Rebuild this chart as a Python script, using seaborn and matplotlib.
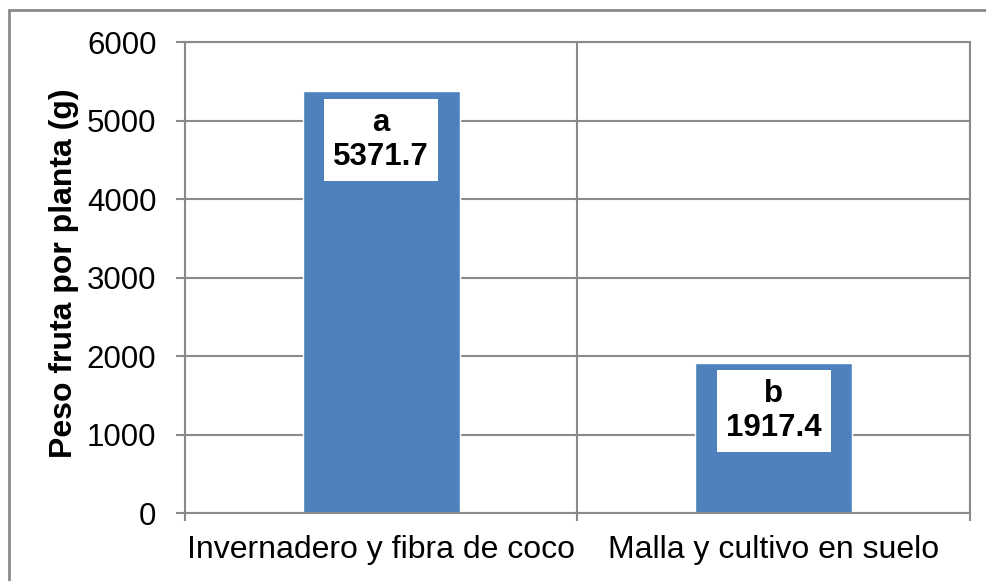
import matplotlib
matplotlib.use("Agg")
import matplotlib.pyplot as plt
from matplotlib.lines import Line2D
from matplotlib.ticker import FixedLocator
import seaborn as sns
import pandas as pd

# datos
tratamientos = ["Invernadero y fibra de coco", "Malla y cultivo en suelo"]
peso_fruta = [5371.7, 1917.4]
letras = ["a", "b"]

df = pd.DataFrame({"tratamiento": tratamientos, "peso": peso_fruta})

sns.set_style("white")
plt.rcParams["font.family"] = ["Liberation Sans", "DejaVu Sans"]
plt.rcParams["text.color"] = "black"
plt.rcParams["xtick.labelcolor"] = "black"
plt.rcParams["ytick.labelcolor"] = "black"
plt.rcParams["axes.labelcolor"] = "black"

gris = "#8a8a8a"

fig, ax = plt.subplots(figsize=(9.87, 5.81), dpi=100)
fig.subplots_adjust(left=0.1874, right=0.9828, top=0.9277, bottom=0.117)

sns.barplot(data=df, x="tratamiento", y="peso", color="#4F81BD",
            saturation=1, width=0.4, ax=ax)

ax.set_xlim(-0.5, 1.5)
ax.set_ylim(0, 6000)
ax.set_yticks(range(0, 6001, 1000))
ax.xaxis.set_minor_locator(FixedLocator([-0.5, 0.5, 1.5]))

# lineas de guia
ax.set_axisbelow(True)
ax.grid(axis="y", which="major", color=gris, linewidth=1.5)
ax.grid(axis="x", which="minor", color=gris, linewidth=1.5)
for s in ax.spines.values():
    s.set_color(gris)
    s.set_linewidth(1.5)

ax.tick_params(axis="y", which="major", direction="out", length=6.5, width=1.5,
               color=gris, labelsize=22.5, pad=14, left=True, labelcolor="black")
ax.tick_params(axis="x", which="major", length=0, labelsize=23, pad=16,
               labelcolor="black")
ax.tick_params(axis="x", which="minor", direction="out", length=6, width=1.5,
               color=gris, bottom=True)

ax.set_xlabel("")
ax.set_ylabel("Peso fruta por planta (g)", fontsize=23, fontweight="bold",
              color="black")
ax.yaxis.set_label_coords(-0.135, 0.51)

# etiquetas dentro de las barras
for i, (v, l) in enumerate(zip(peso_fruta, letras)):
    ax.annotate(f"{l}\n{v:.1f}", xy=(i, v), xytext=(0, -35),
                textcoords="offset points", ha="center", va="center",
                fontsize=22.5, fontweight="bold", linespacing=1.15, color="black",
                bbox=dict(boxstyle="square,pad=0.3", fc="white", ec="none"))

# marco exterior
fig.add_artist(Line2D([0.0087, 0.0087], [0, 0.983], transform=fig.transFigure,
                      color=gris, linewidth=2))
fig.add_artist(Line2D([0.0087, 1], [0.983, 0.983], transform=fig.transFigure,
                      color=gris, linewidth=2))

plt.savefig("out.png", dpi=100)
